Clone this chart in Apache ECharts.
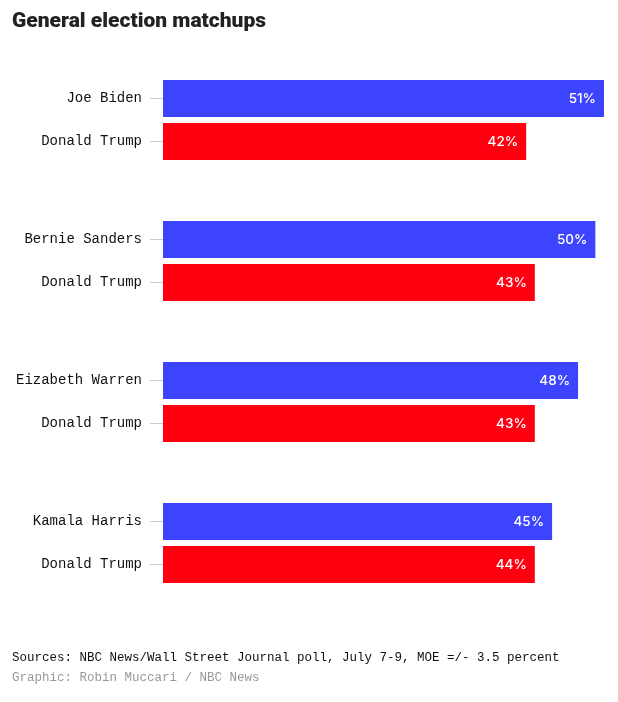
<!DOCTYPE html>
<html>
<head>
<meta charset="utf-8">
<script src="https://cdn.jsdelivr.net/npm/echarts@6/dist/echarts.min.js"></script>
<style>
html,body{margin:0;padding:0;background:#fff;}
#main{width:618px;height:702px;}
</style>
</head>
<body>
<div id="main"></div>
<script>
const categories = ['Joe Biden','Donald Trump','Bernie Sanders','Donald Trump','Eizabeth Warren','Donald Trump','Kamala Harris','Donald Trump'];
const values = [51, 42, 50, 43, 48, 43, 45, 43];
const valueLabels = ['51%','42%','50%','43%','48%','43%','45%','44%'];
const partyColors = ['#3d44fd', '#ff0011'];
const titleText = 'General election matchups';
const sourceText = 'Sources: NBC News/Wall Street Journal poll, July 7-9, MOE =/- 3.5 percent';
const creditText = 'Graphic: Robin Muccari / NBC News';

const chart = echarts.init(document.getElementById('main'), null, {renderer: 'canvas'});
const grids = [], xAxes = [], yAxes = [], series = [];
const valueLabelStyle = {show: true, position: 'insideRight', distance: 8, color: '#fff', fontFamily: 'Inter, Roboto, sans-serif', fontSize: 13.5, fontWeight: 500};
for (let g = 0; g < 4; g++) {
  grids.push({left: 163, right: 14, top: 77 + 141 * g, height: 86, containLabel: false});
  xAxes.push({type: 'value', gridIndex: g, min: 0, max: 51, show: false});
  yAxes.push({
    type: 'category', gridIndex: g, inverse: true,
    data: categories.slice(g * 2, g * 2 + 2),
    axisLine: {show: false},
    axisTick: {show: true, alignWithLabel: true, length: 13, lineStyle: {color: '#cccccc', width: 1}},
    axisLabel: {margin: 21, color: '#111', fontFamily: 'Liberation Mono', fontSize: 14},
    splitLine: {show: false}
  });
  series.push({
    type: 'bar', xAxisIndex: g, yAxisIndex: g, barWidth: 37,
    data: values.slice(g * 2, g * 2 + 2).map((v, k) => ({
      value: v,
      itemStyle: {color: partyColors[k]},
      label: Object.assign({}, valueLabelStyle, {formatter: valueLabels[g * 2 + k]})
    })),
    label: valueLabelStyle,
    silent: true, animation: false
  });
}
chart.setOption({
  animation: false,
  title: {text: titleText, left: 7, top: 6, textStyle: {fontFamily: 'Roboto', fontWeight: 900, fontSize: 21, color: '#222'}},
  grid: grids, xAxis: xAxes, yAxis: yAxes, series: series,
  graphic: [
    {type: 'text', left: 12, top: 651, style: {text: sourceText, fontFamily: 'Liberation Mono', fontSize: 12.5, fill: '#111'}},
    {type: 'text', left: 12, top: 671, style: {text: creditText, fontFamily: 'Liberation Mono', fontSize: 12.5, fill: '#999'}}
  ]
});
</script>
</body>
</html>
